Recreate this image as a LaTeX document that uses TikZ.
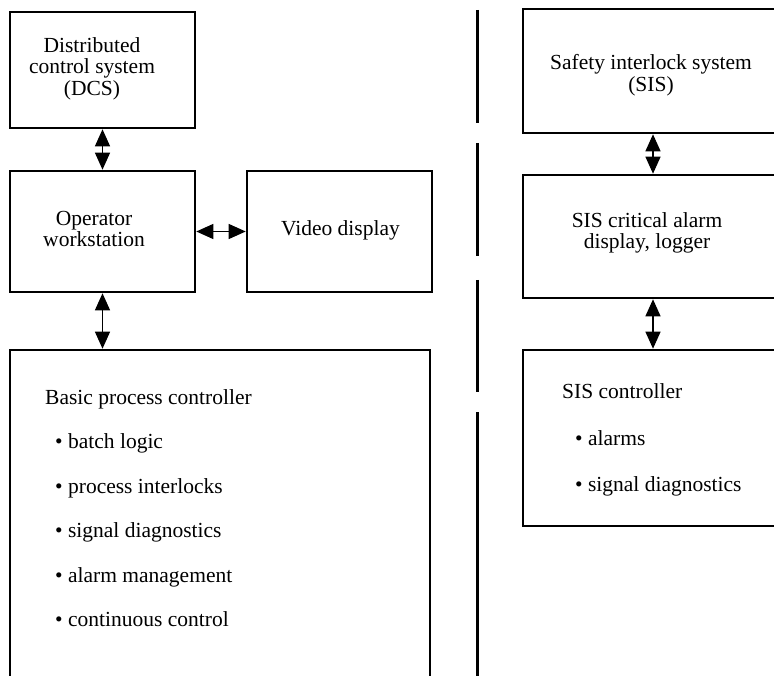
\documentclass[tikz,border=0pt]{standalone}
\usepackage{fontspec}
\setmainfont{Liberation Serif}
\usetikzlibrary{arrows.meta}

\begin{document}
\begin{tikzpicture}[x=1pt, y=-1pt,
  blk/.style={draw, line width=2.6pt, inner sep=0pt},
  txt/.style={inner sep=0pt, align=center, font=\fontsize{21.5}{21.5}\selectfont},
  lbl/.style={anchor=base west, inner sep=0pt, font=\fontsize{21.5}{21.5}\selectfont},
  link/.style={line width=1.2pt, {Triangle[length=17pt,width=15pt]}-{Triangle[length=17pt,width=15pt]}},
  divider/.style={line width=3pt}]
\useasboundingbox (0,0) rectangle (774,676);
\clip (0,0) rectangle (774,676);

% DCS side
\node[blk, minimum width=185pt, minimum height=116pt] (dcs) at (102.5,70) {};
\node[txt] (dcstxt) at (92,68.5) {Distributed\\control system\\(DCS)};
\node[blk, minimum width=185pt, minimum height=121pt] (op) at (102.5,231.5) {};
\node[txt] (optxt) at (94,229) {Operator\\workstation};
\node[blk, minimum width=185pt, minimum height=121pt] (video) at (339.5,231.5) {};
\node[txt] (videotxt) at (340.5,230) {Video display};
\node[blk, minimum width=420pt, minimum height=350pt] (basic) at (220,525) {};
\node[lbl] (bpc) at (45,404) {Basic process controller};
\foreach \entry [count=\i] in {batch logic, process interlocks, signal diagnostics, alarm management, continuous control} {
  \node[lbl] (bpc\i) at (55,404+44.5*\i) {\textbullet\ \entry};
}

% SIS side
\node[blk, minimum width=260pt, minimum height=124pt] (sis) at (653,71) {};
\node[txt] (sistxt) at (651,75) {Safety interlock system\\(SIS)};
\node[blk, minimum width=260pt, minimum height=123pt] (sisalarm) at (653,236.5) {};
\node[txt] (sisalarmtxt) at (647,233) {SIS critical alarm\\display, logger};
\node[blk, minimum width=260pt, minimum height=176pt] (sisctl) at (653,438) {};
\node[lbl] (sc) at (562,399) {SIS controller};
\foreach \entry [count=\i] in {alarms, signal diagnostics} {
  \node[lbl] (sc\i) at (575,399+46*\i) {\textbullet\ \entry};
}

% connections
\draw[link] (dcs) -- (op);
\draw[link] (op) -- (video);
\draw[link] (op.south) -- (op.south |- basic.north);
\draw[link] (sis) -- (sisalarm);
\draw[link] (sisalarm) -- (sisctl);

% separator
\foreach \a/\b in {10/123, 143/256, 280/392, 412/690} {
  \draw[divider] (477,\a) -- (477,\b);
}
\end{tikzpicture}
\end{document}
